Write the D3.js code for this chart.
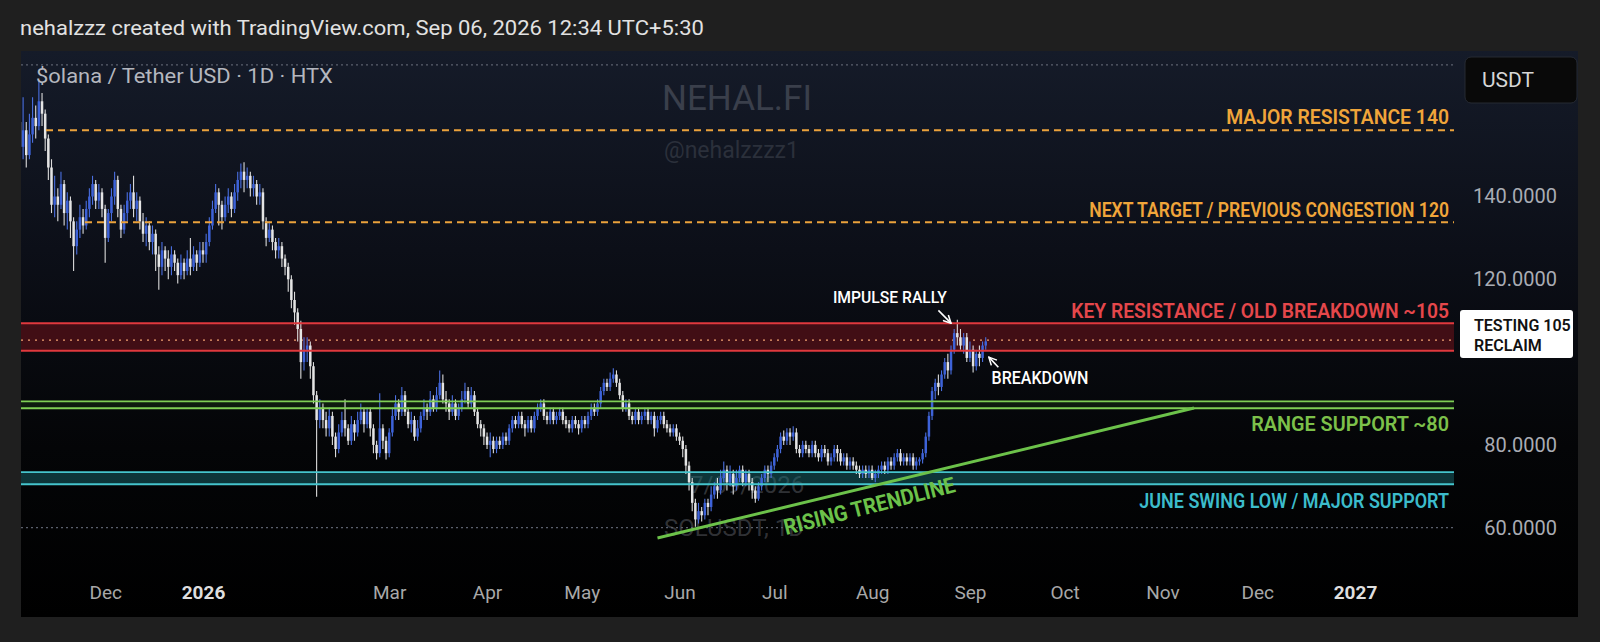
<!DOCTYPE html>
<html><head><meta charset="utf-8">
<script src="https://cdn.jsdelivr.net/npm/d3@7"></script>
<style>
html,body{margin:0;padding:0;background:#1f1f1f;}
svg{display:block;font-family:Roboto,"Noto Sans",sans-serif;}
</style>
</head><body>
<svg id="c" width="1600" height="642"></svg>
<script>
// ---------------- DATA ----------------
const startDate = "2025-11-04";   // first daily candle
const firstOpen = 158;
const closes = [
152,156,150,155,159,157,163,160,154,147,138,140,138,143,136,139,134,128,132,135,
133,137,140,143,139,141,137,130,136,140,144,137,132,136,139,141,137,139,134,131,
133,129,131,126,123,127,125,123,126,124,121,124,122,125,123,126,124,127,126,129,
133,137,141,138,135,138,140,137,141,144,146,144,145,142,143,140,141,134,130,132,
129,127,128,125,123,120,115,112,108,100,103,104,99,92,86,
89,86,84,87,82,79,83,86,84,81,85,83,86,88,85,88,84,80,78,84,81,78,83,87,90,88,92,88,85,86,
82,84,87,89,88,91,89,92,95,91,90,88,90,87,89,91,93,90,92,88,85,84,
82,80,81,79,81,80,82,81,84,86,85,87,85,84,86,84,87,89,90,87,86,88,86,87,88,86,85,84,86,85,
84,86,85,87,89,88,90,93,95,94,96,97,95,92,89,90,87,86,88,86,87,88,86,87,84,86,87,85,84,83,84,82,
81,79,75,71,66,62,64,63,66,65,68,70,69,72,74,71,73,70,72,74,71,73,71,69,67,70,72,74,73,75,
77,79,82,81,83,82,83,79,78,80,79,78,80,78,77,79,78,76,77,79,78,76,77,75,76,75,74,73,74,73,
74,72,73,74,75,74,76,75,77,78,76,77,76,77,75,76,76.5,78,82,87,93,95,94,97,100,98,103,107,106,104,
106,101,103,99,102,101,104,105];
const highs = [
162,164,158,160,164,162,168,165,161,155,149,145,142,146,144,141,140,135,134,138,
137,139,142,145,144,143,142,138,137,142,146,145,138,138,141,143,145,141,140,136,
135,134,133,132,128,129,128,127,128,127,125,126,125,127,130,128,127,129,129,131,
135,139,143,142,139,140,142,141,143,146,148,148.3,147,146,145,144,143,142,135,134,
133,130,130,129,126,124,121,117,113,110,106,106,105,100,93,
91,90,88,89,88,83,85,88,91,85,87,86,88,90,89,89,89,85,81,92.5,85,82,84,89,92,91,94,93,89,88,
87,86,88,91,90,93,92,94,98,97,93,91,92,91,90,93,95,94,94,93,89,86,
85,83,83,82,82,82,83,83,85,87,87,88,88,86,87,87,88,90,91,91,88,89,89,88,89,89,87,86,87,87,
86,87,87,88,90,90,91,94,96,96,97.5,98.5,98,96,93,91,91,88,89,89,88,89,89,88,88,87,88,88,86,85,85,85,
83,82,80,76,72,67,66,65,67,67,70,71,72,74,76,75,75,74,74,75,75,74,74,72,70,71,73,75,75,76,
78,80,83,83.5,84,84,84.5,84,80,81,81,80,81,81,79,80,80,79,78,80,80,79,78,78,77,77,76,75,75,75,
75,75,74,75,76,76,77,77,78,79,79,78,78,78,78,77,77,79,83,88,94,96,97,98,101,102,104,108,110.2,108,
107,107,105,104,103,104,105,106];
const lows = [
146,149,147,149,153,154,156,157,151,144,136,135,134,137,133,132,130,122,126,130,
131,132,135,138,137,137,135,124,129,134,138,135,130,131,134,137,135,134,132,129,
128,127,126,122,117.5,121,122,120,121,122,119,120,120,121,121,122,122,123,124,124,
128,132,136,133,132,134,136,135,136,139,142,141,142,140,140,138,138,132,128,129,
127,125,125,123,121,117,113,109,105,96,98,100,96,90,67.5,
84,84,82,82,80,77,78,82,82,80,80,81,82,85,83,84,82,78,76.5,77,79,76.5,77,82,86,86,87,87,84,83,
81,81,83,86,86,87,88,88,91,90,88,86,87,86,86,88,90,89,89,87,84,82,
80,79,77,78,78,79,79,80,80,83,84,84,84,82,83,83,83,86,88,86,85,85,85,85,86,85,84,83,83,84,
82.5,83,84,84,86,87,87,89,92,93,93,95,94,91,88,88,86,85,85,85,85,86,85,85,82,83,85,84,83,82,82,81,
80,77,73,69,64,60.2,61,61.5,62,63,64,67,67,68,71,69,70,68,69,71,70,70,69,67,66,66.5,69,71,71,72,
74,76,78,80,80,80,81,78,77,77,78,77,77,77,76,76,77,75,75,76,76,75,75,74,74,74,73,72,72,72,
72,71.5,71,72,73,73,73,74,74,76,75,75,75,75,74,74,75,75.5,77,81,86,91,92,93,96,96,97,102,104,103,
102,100,100,97.5,98,99,100,103];

const priceTicks = [140, 120, 80, 60];
const timeTickDates = ["2025-12-01","2026-01-01","2026-03-01","2026-04-01","2026-05-01","2026-06-01",
  "2026-07-01","2026-08-01","2026-09-01","2026-10-01","2026-11-01","2026-12-01","2027-01-01"];
const timeTickLabels = ["Dec","2026","Mar","Apr","May","Jun","Jul","Aug","Sep","Oct","Nov","Dec","2027"];
const timeTickBold = ["2026","2027"];

const dashedLevels = [156.0, 133.8];
const dashedLabels = ["MAJOR RESISTANCE 140", "NEXT TARGET / PREVIOUS CONGESTION  120"];
const redBand = [102.75, 109.4];
const redMid = 105.3;
const redLabel = "KEY RESISTANCE / OLD BREAKDOWN ~105";
const greenBand = [88.85, 90.5];
const greenLabel = "RANGE SUPPORT ~80";
const tealBand = [70.5, 73.4];
const tealLabel = "JUNE SWING LOW / MAJOR SUPPORT";
const dottedGrid = [171.8, 60];
const trendDates = ["2026-05-25", "2026-11-11"];
const trendPrices = [57.5, 88.9];

// ---------------- LAYOUT ----------------
const svg = d3.select("#c");
const W = 1600, H = 642;
const panel = {x:21, y:51, w:1557, h:566};
const plotR = 1454, plotB = 560;

const parse = d3.utcParse("%Y-%m-%d");
const x = d3.scaleUtc().domain([parse("2026-01-01"), parse("2027-01-01")]).range([203, 1355]);
const y = d3.scaleLinear().domain([60, 140]).range([527.7, 196.5]);

// place a text at (tx,ty) scaled horizontally to a target width
function fit(sel, tx, ty, target, anchor, rot){
  sel.attr("x",0).attr("y",0).attr("text-anchor",anchor||"start");
  const w = sel.node().getComputedTextLength();
  const s = w>0 ? target/w : 1;
  sel.attr("transform",`translate(${tx},${ty})${rot?` rotate(${rot})`:""} scale(${s},1)`);
  return sel;
}

const defs = svg.append("defs");
const g = defs.append("linearGradient").attr("id","bg").attr("x1",0).attr("y1",0).attr("x2",0).attr("y2",1);
[[0,"#151b29"],[0.35,"#0c0f18"],[0.7,"#040507"],[1,"#000000"]].forEach(s=>g.append("stop").attr("offset",s[0]).attr("stop-color",s[1]));
defs.append("clipPath").attr("id","plotclip").append("rect")
  .attr("x",panel.x).attr("y",panel.y).attr("width",plotR-panel.x).attr("height",plotB-panel.y);
const mk = defs.append("marker").attr("id","arr").attr("viewBox","0 0 10 10").attr("refX",9).attr("refY",5)
  .attr("markerWidth",6).attr("markerHeight",6).attr("orient","auto-start-reverse");
mk.append("path").attr("d","M1,1 L9,5 L1,9").attr("fill","none").attr("stroke","#ffffff").attr("stroke-width",1.6);

svg.append("rect").attr("width",W).attr("height",H).attr("fill","#1f1f1f");
svg.append("rect").attr("x",panel.x).attr("y",panel.y).attr("width",panel.w).attr("height",panel.h).attr("fill","url(#bg)");

// header
fit(svg.append("text").attr("fill","#e2e2e2").attr("font-size",21)
  .text("nehalzzz created with TradingView.com, Sep 06, 2026 12:34 UTC+5:30"), 20, 35, 684, "start");

const plot = svg.append("g").attr("clip-path","url(#plotclip)");

// watermarks
plot.append("text").attr("x",662).attr("y",110).attr("fill","#3a3f4b").attr("font-size",35).text("NEHAL.FI");
plot.append("text").attr("x",664).attr("y",158).attr("fill","#2b303b").attr("font-size",23).text("@nehalzzzz1");
plot.append("text").attr("x",690).attr("y",493).attr("fill","#7a7e87").attr("fill-opacity",0.4).attr("font-size",24).text("7/09/2026");
plot.append("text").attr("x",664).attr("y",536).attr("fill","#7a7e87").attr("fill-opacity",0.4).attr("font-size",24).text("SOLUSDT, 1D");

// dotted grid
plot.selectAll(".dg").data(dottedGrid).enter().append("line")
  .attr("x1",panel.x).attr("x2",plotR).attr("y1",d=>y(d)).attr("y2",d=>y(d))
  .attr("stroke","#5b606d").attr("stroke-width",1.2).attr("stroke-dasharray","2,3");

// bands
function band(vals, fill, op){
  plot.append("rect").attr("x",panel.x).attr("width",plotR-panel.x)
    .attr("y",y(vals[1])).attr("height",y(vals[0])-y(vals[1])).attr("fill",fill).attr("fill-opacity",op);
}
band(redBand, "#7a121a", 0.5);
band(greenBand, "#2e6a1e", 0.22);
band(tealBand, "#1a7077", 0.45);

plot.append("line").attr("x1",panel.x).attr("x2",plotR).attr("y1",y(redMid)).attr("y2",y(redMid))
  .attr("stroke","#f0a070").attr("stroke-width",1.4).attr("stroke-dasharray","2,5");

// candles
const start = parse(startDate);
const candles = closes.map((c,i)=>{
  const o = i===0 ? firstOpen : closes[i-1];
  return {date:d3.utcDay.offset(start,i), o, c, h:Math.max(highs[i],o,c), l:Math.min(lows[i],o,c)};
});
const cg = plot.append("g");
cg.selectAll("line").data(candles).enter().append("line")
  .attr("x1",d=>x(d.date)).attr("x2",d=>x(d.date)).attr("y1",d=>y(d.h)).attr("y2",d=>y(d.l))
  .attr("stroke",d=>d.c>=d.o?"#4a6fe0":"#dcdcdc").attr("stroke-width",1.1);
cg.selectAll("rect").data(candles).enter().append("rect")
  .attr("x",d=>x(d.date)-1.25).attr("width",2.5)
  .attr("y",d=>y(Math.max(d.o,d.c))).attr("height",d=>Math.max(1,Math.abs(y(d.o)-y(d.c))))
  .attr("fill",d=>d.c>=d.o?"#3d62d8":"#e4e4e4");

// level lines
plot.selectAll(".dl").data(dashedLevels).enter().append("line")
  .attr("x1",(d,i)=>i===0?46:85).attr("x2",plotR).attr("y1",d=>y(d)).attr("y2",d=>y(d))
  .attr("stroke","#eba23c").attr("stroke-width",2).attr("stroke-dasharray","7,5");
redBand.forEach(v=>plot.append("line").attr("x1",panel.x).attr("x2",plotR).attr("y1",y(v)).attr("y2",y(v))
  .attr("stroke","#e0393e").attr("stroke-width",2));
greenBand.forEach(v=>plot.append("line").attr("x1",panel.x).attr("x2",plotR).attr("y1",y(v)).attr("y2",y(v))
  .attr("stroke","#7fcf55").attr("stroke-width",1.8));
tealBand.forEach(v=>plot.append("line").attr("x1",panel.x).attr("x2",plotR).attr("y1",y(v)).attr("y2",y(v))
  .attr("stroke","#45c4cc").attr("stroke-width",1.8));

// trendline
const tl = trendDates.map((d,i)=>[x(parse(d)), y(trendPrices[i])]);
plot.append("line").attr("x1",tl[0][0]).attr("y1",tl[0][1]).attr("x2",tl[1][0]).attr("y2",tl[1][1])
  .attr("stroke","#6cc24a").attr("stroke-width",3);
const ang = Math.atan2(tl[1][1]-tl[0][1], tl[1][0]-tl[0][0])*180/Math.PI;
fit(plot.append("text").attr("fill","#6cc24a").attr("font-size",22).attr("font-weight",700).text("RISING TRENDLINE"),
  786, 535, 176, "start", ang-0.6);

// level labels
const lbl = (txt, yy, col, len) => fit(svg.append("text")
  .attr("fill",col).attr("font-size",21).attr("font-weight",600).text(txt), 1449, yy, len, "end");
lbl(dashedLabels[0], y(dashedLevels[0])-6.5, "#f0a53a", 223);
lbl(dashedLabels[1], y(dashedLevels[1])-5.5, "#f0a53a", 360);
lbl(redLabel, y(redBand[1])-5.5, "#e5474b", 378);
lbl(greenLabel, y(greenBand[0])+22.5, "#7cc04a", 198);
lbl(tealLabel, y(tealBand[0])+23.5, "#3cbccb", 310);

// annotations
const ad = d=>x(parse(d));
fit(svg.append("text").attr("fill","#ffffff").attr("font-size",17).attr("font-weight",500).text("IMPULSE RALLY"),
  ad("2026-08-25")-1, y(114.3), 114, "end");
svg.append("line").attr("x1",ad("2026-08-22")).attr("y1",y(112.5)).attr("x2",ad("2026-08-26")).attr("y2",y(109.4))
  .attr("stroke","#ffffff").attr("stroke-width",1.6).attr("marker-end","url(#arr)");
fit(svg.append("text").attr("fill","#ffffff").attr("font-size",18).attr("font-weight",500).text("BREAKDOWN"),
  ad("2026-09-08")-0.5, y(94.7), 97, "start");
svg.append("line").attr("x1",ad("2026-09-10")).attr("y1",y(98.75)).attr("x2",ad("2026-09-07")).attr("y2",y(101.2))
  .attr("stroke","#ffffff").attr("stroke-width",1.6).attr("marker-end","url(#arr)");

// symbol title
fit(svg.append("text").attr("fill","#b4b7bf").attr("font-size",19.5).text("$olana / Tether USD · 1D · HTX"),
  36, 83, 297, "start");

// price axis
const ya = svg.append("g").attr("transform","translate(1557,0)")
  .call(d3.axisRight(y).tickValues(priceTicks).tickFormat(d3.format(".4f")).tickSize(0));
ya.select(".domain").remove();
ya.selectAll("text").attr("x",0).attr("text-anchor","end").attr("fill","#a9acb4")
  .attr("font-size",20).attr("font-family","Roboto,sans-serif");

// USDT box
svg.append("rect").attr("x",1465).attr("y",57).attr("width",112).attr("height",46).attr("rx",6)
  .attr("fill","#090909").attr("stroke","#262a33").attr("stroke-width",1);
svg.append("text").attr("x",1482).attr("y",87).attr("fill","#d6d6d6").attr("font-size",21).text("USDT");

// TESTING box
svg.append("rect").attr("x",1460).attr("y",310).attr("width",113).attr("height",48).attr("rx",3).attr("fill","#ffffff");
svg.append("text").attr("x",1474).attr("y",331).attr("fill","#111").attr("font-size",16).attr("font-weight",600).text("TESTING 105");
svg.append("text").attr("x",1474).attr("y",351).attr("fill","#111").attr("font-size",16).attr("font-weight",600).text("RECLAIM");

// time axis
const tDates = timeTickDates.map(parse);
const xa = svg.append("g").attr("transform","translate(0,582)")
  .call(d3.axisBottom(x).tickValues(tDates).tickFormat((d,i)=>timeTickLabels[i]).tickSize(0));
xa.select(".domain").remove();
xa.selectAll("text").attr("font-size",19).attr("font-family","Roboto,sans-serif")
  .attr("fill",(d,i)=>timeTickBold.includes(timeTickLabels[i])?"#dedede":"#a8a8a8")
  .attr("font-weight",(d,i)=>timeTickBold.includes(timeTickLabels[i])?700:400);
</script>
</body></html>
